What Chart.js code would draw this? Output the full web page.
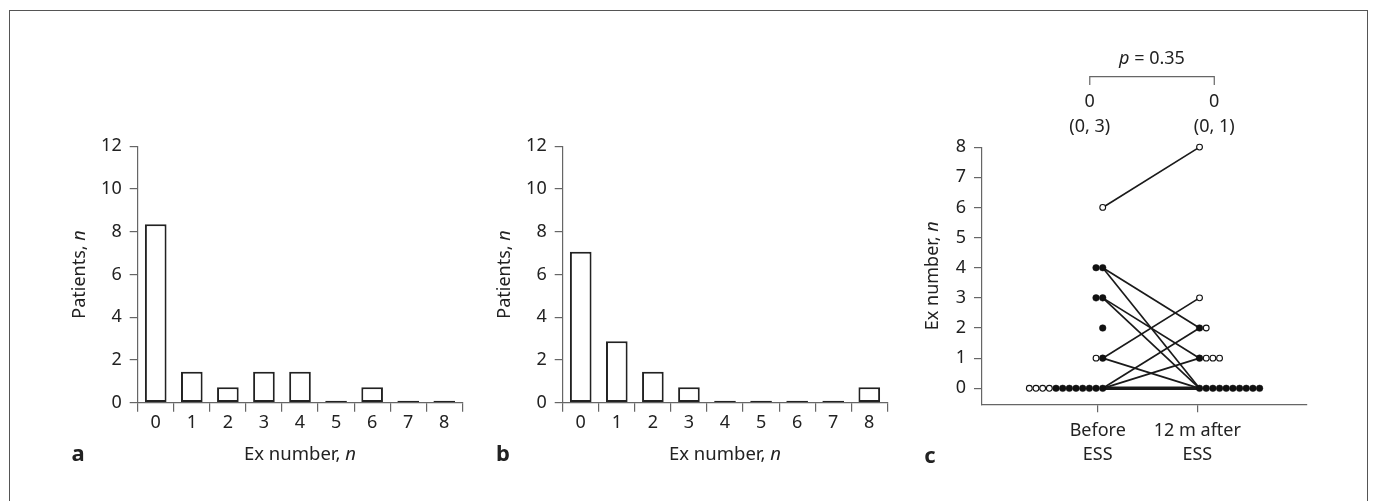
<!DOCTYPE html>
<html>
<head>
<meta charset="utf-8">
<script src="https://cdn.jsdelivr.net/npm/chart.js@4.4.1/dist/chart.umd.min.js"></script>
<style>
  html, body { margin: 0; padding: 0; background: #fff; overflow: hidden; }
  body { width: 1375px; height: 501px; position: relative; }
  #frame { position: absolute; left: 9px; top: 10px; width: 1357px; height: 600px; border: 1px solid #555; }
  canvas { position: absolute; }
</style>
</head>
<body>
<div id="frame"></div>
<canvas id="chartA" width="440" height="440" style="left:40px;top:40px"></canvas>
<canvas id="chartB" width="440" height="440" style="left:465px;top:40px"></canvas>
<canvas id="chartC" width="440" height="440" style="left:900px;top:40px"></canvas>
<script>
// --- data ---
const exLabels = ['0', '1', '2', '3', '4', '5', '6', '7', '8'];
const patientsA = [8.35, 1.45, 0.72, 1.45, 1.45, 0, 0.72, 0, 0];
const patientsB = [7.06, 2.88, 1.45, 0.72, 0, 0, 0, 0, 0.72];
const yTicksAB = [0, 2, 4, 6, 8, 10, 12];

// panel c: dot counts per value (filled / open) and paired lines
const beforeValues = [0, 1, 2, 3, 4, 6];
const beforeFilled = [8, 1, 1, 2, 2, 0];
const beforeOpen   = [4, 1, 0, 0, 0, 1];
const afterValues  = [0, 1, 2, 3, 8];
const afterFilled  = [10, 1, 1, 0, 0];
const afterOpen    = [0, 3, 1, 1, 1];
const pairBefore = [6, 4, 4, 3, 3, 1, 1, 0, 0, 0];
const pairAfter  = [8, 2, 0, 1, 0, 3, 0, 2, 1, 0];
const yTicksC = [0, 1, 2, 3, 4, 5, 6, 7, 8];
const groupLabels = [['Before', 'ESS'], ['12 m after', 'ESS']];
const medianText = ['0', '0'];
const iqrText = ['(0, 3)', '(0, 1)'];
const pText = '0.35';

// --- look ---
const INK = '#222';
const AXIS = '#666';
const FONT = '"Noto Sans", sans-serif';
Chart.defaults.font.family = FONT;
Chart.defaults.color = INK;

function drawRich(ctx, parts, x, y, rot, size, weight) {
  ctx.save();
  ctx.translate(x, y);
  ctx.rotate(rot || 0);
  ctx.textBaseline = 'middle';
  ctx.textAlign = 'left';
  ctx.fillStyle = INK;
  const fonts = parts.map(p => (p.italic ? 'italic ' : '') + (weight || 'normal') + ' ' + size + 'px ' + FONT);
  let w = 0;
  parts.forEach((p, i) => { ctx.font = fonts[i]; w += ctx.measureText(p.text).width; });
  let cx = -w / 2;
  parts.forEach((p, i) => { ctx.font = fonts[i]; ctx.fillText(p.text, cx, 0); cx += ctx.measureText(p.text).width; });
  ctx.restore();
}

// axis titles and panel letters (mixed italic, so drawn by hand)
const panelText = {
  id: 'panelText',
  afterDraw(chart, args, opts) {
    const ctx = chart.ctx, a = chart.chartArea;
    const midY = (a.top + a.bottom) / 2;
    if (opts.yTitle) drawRich(ctx, opts.yTitle, a.left - opts.yTitleDx, midY, -Math.PI / 2, 18);
    if (opts.xTitle) drawRich(ctx, opts.xTitle, (a.left + a.right) / 2, a.bottom + opts.xTitleDy, 0, 18.5);
    if (opts.letter) drawRich(ctx, [{ text: opts.letter }], a.left - opts.letterDx, a.bottom + opts.letterDy, 0, 22, 'bold');
  }
};

// bracket with p value and medians (IQR) above panel c
const statsPlugin = {
  id: 'stats',
  afterDraw(chart, args, opts) {
    if (!opts.show) return;
    const ctx = chart.ctx, a = chart.chartArea, xs = chart.scales.x;
    const x0 = xs.getPixelForValue(0.92), x1 = xs.getPixelForValue(2.17);
    const yb = a.top - 70.4;
    ctx.save();
    ctx.strokeStyle = AXIS;
    ctx.lineWidth = 1.2;
    ctx.beginPath();
    ctx.moveTo(x0, a.top - 62); ctx.lineTo(x0, yb); ctx.lineTo(x1, yb); ctx.lineTo(x1, a.top - 62);
    ctx.stroke();
    ctx.restore();
    drawRich(ctx, [{ text: 'p', italic: true }, { text: ' = ' + pText }], (x0 + x1) / 2, a.top - 88, 0, 18);
    [x0, x1].forEach((x, i) => {
      drawRich(ctx, [{ text: medianText[i] }], x, a.top - 45, 0, 18);
      drawRich(ctx, [{ text: iqrText[i] }], x, a.top - 20, 0, 18);
    });
  }
};

function barChart(id, values, letter) {
  return new Chart(document.getElementById(id), {
    type: 'bar',
    data: {
      labels: exLabels,
      datasets: [{
        data: values,
        backgroundColor: '#fff',
        borderColor: '#222',
        borderWidth: 2,
        borderSkipped: false,
        minBarLength: 2,
        barPercentage: 0.6,
        categoryPercentage: 1
      }]
    },
    options: {
      responsive: false,
      animation: false,
      layout: { padding: { left: 0, top: 106.2, right: 17.7, bottom: 0 } },
      plugins: {
        legend: { display: false },
        tooltip: { enabled: false },
        panelText: {
          yTitle: [{ text: 'Patients, ' }, { text: 'n', italic: true }], yTitleDx: 57.7,
          xTitle: [{ text: 'Ex number, ' }, { text: 'n', italic: true }], xTitleDy: 52.3,
          letter: letter, letterDx: 59.7, letterDy: 52.3
        }
      },
      scales: {
        x: {
          offset: true,
          grid: { offset: true, drawOnChartArea: false, tickLength: 9, color: AXIS, lineWidth: 1.2 },
          border: { display: true, color: AXIS, width: 1.2 },
          ticks: { color: INK, font: { size: 18, lineHeight: 1.2 }, padding: 0, maxRotation: 0, autoSkip: false },
          afterFit(s) { s.height = 77.3; }
        },
        y: {
          min: 0, max: 12,
          afterBuildTicks(s) { s.ticks = yTicksAB.map(v => ({ value: v })); },
          grid: { drawOnChartArea: false, tickLength: 8, color: AXIS, lineWidth: 1.2 },
          border: { display: true, color: AXIS, width: 1.2 },
          ticks: { color: INK, font: { size: 18 }, padding: 8 },
          afterFit(s) { s.width = 97.7; }
        }
      }
    },
    plugins: [panelText]
  });
}

barChart('chartA', patientsA, 'a');
barChart('chartB', patientsB, 'b');

// panel c: dots stacked sideways from each group's column
const beforeX = 1.05, afterX = 2.022, dotStep = 0.067;
const filledPts = [], openPts = [];
beforeValues.forEach((v, i) => {
  for (let k = 0; k < beforeFilled[i] + beforeOpen[i]; k++) {
    (k < beforeFilled[i] ? filledPts : openPts).push({ x: beforeX - k * dotStep, y: v });
  }
});
afterValues.forEach((v, i) => {
  for (let k = 0; k < afterFilled[i] + afterOpen[i]; k++) {
    (k < afterFilled[i] ? filledPts : openPts).push({ x: afterX + k * dotStep, y: v });
  }
});

const lineSets = pairBefore.map((b, i) => ({
  type: 'line',
  data: [{ x: beforeX, y: b }, { x: afterX, y: pairAfter[i] }],
  showLine: true,
  borderColor: '#1a1a1a',
  borderWidth: (b === 0 && pairAfter[i] === 0) ? 3.5 : 1.7,
  pointRadius: 0,
  fill: false,
  clip: false,
  order: 2
}));

new Chart(document.getElementById('chartC'), {
  type: 'scatter',
  data: {
    datasets: [
      { data: filledPts, pointRadius: 3.3, pointBackgroundColor: '#111', pointBorderColor: '#111', pointBorderWidth: 0.5, clip: false, order: 0 },
      { data: openPts, pointRadius: 2.9, pointBackgroundColor: '#fff', pointBorderColor: '#111', pointBorderWidth: 1.1, clip: false, order: 0 }
    ].concat(lineSets)
  },
  options: {
    responsive: false,
    animation: false,
    layout: { padding: { left: 0, top: 107.1, right: 33.3, bottom: 0 } },
    plugins: {
      legend: { display: false },
      tooltip: { enabled: false },
      stats: { show: true },
      panelText: {
        yTitle: [{ text: 'Ex number, ' }, { text: 'n', italic: true }], yTitleDx: 48.7,
        letter: 'c', letterDx: 52, letterDy: 52.4
      }
    },
    scales: {
      x: {
        type: 'linear',
        min: -0.162, max: 3.098,
        afterBuildTicks(s) { s.ticks = [{ value: 1 }, { value: 2 }]; },
        grid: { drawOnChartArea: false, tickLength: 8, color: AXIS, lineWidth: 1.2 },
        border: { display: true, color: AXIS, width: 1.2 },
        ticks: { color: INK, font: { size: 18, lineHeight: 1.3 }, padding: 7, maxRotation: 0, callback: (v, i) => groupLabels[i] },
        afterFit(s) { s.height = 75.7; }
      },
      y: {
        min: -0.53, max: 8,
        afterBuildTicks(s) { s.ticks = yTicksC.map(v => ({ value: v })); },
        grid: { drawOnChartArea: false, tickLength: 8, color: AXIS, lineWidth: 1.2 },
        border: { display: true, color: AXIS, width: 1.2 },
        ticks: { color: INK, font: { size: 18 }, padding: 8 },
        afterFit(s) { s.width = 82; }
      }
    }
  },
  plugins: [panelText, statsPlugin]
});
</script>
</body>
</html>
